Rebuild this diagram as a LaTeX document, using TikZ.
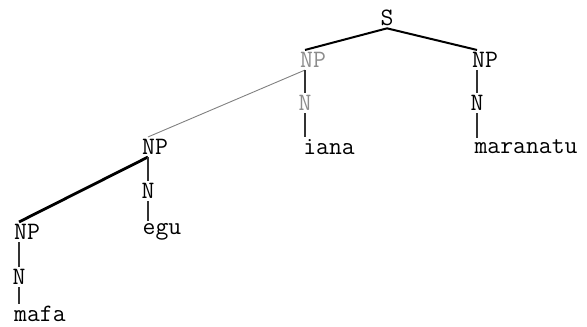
\documentclass[tikz,border=0pt]{standalone}
\usepackage{tikz}
\usetikzlibrary{calc}
\usetikzlibrary{positioning}
\tikzset{>=latex}
\tikzstyle{lbl} = [draw = none, inner sep = 1, font = \ttfamily\fontsize{12.5}{14}\selectfont]
\tikzstyle{dim} = [lbl, text = black!45]
\tikzstyle{branch} = [draw = black, line width = 1pt]
\tikzstyle{stem} = [draw = black!80, line width = 0.6pt]

\begin{document}
\begin{tikzpicture}[x = 0.5pt, y = -0.5pt]
\useasboundingbox (0, 0) rectangle (587, 326);
\node [lbl] (S) at (387, 18) {S};
\node [dim] (NP1) at (313, 60) {NP};
\node [lbl] (NP2) at (485, 60) {NP};
\node [dim] (N1) at (305, 103) {N};
\node [lbl] (N2) at (477, 103) {N};
\node [lbl] (W1) at (329, 147) {iana};
\node [lbl] (W2) at (526, 147) {maranatu};
\node [lbl] (NP3) at (155, 147) {NP};
\node [lbl] (N3) at (148, 191) {N};
\node [lbl] (W3) at (162, 232) {egu};
\node [lbl] (NP4) at (27, 232) {NP};
\node [lbl] (N4) at (19, 277) {N};
\node [lbl] (W4) at (40, 314) {mafa};
\draw [branch] (S.south) to (NP1.north -| N1.north);
\draw [branch] (S.south) to (NP2.north -| N2.north);
\draw [draw = black!50, line width = 0.45pt] (NP1.south -| N1.north) to (NP3.north -| N3.north);
\draw [draw = black, line width = 1.4pt] (NP3.south -| N3.north) to (NP4.north -| N4.north);
\draw [stem] (NP1.south -| N1.north) to (N1.north);
\draw [stem] (N1.south) to (W1.north -| N1.south);
\draw [stem] (NP2.south -| N2.north) to (N2.north);
\draw [stem] (N2.south) to (W2.north -| N2.south);
\draw [stem] (NP3.south -| N3.north) to (N3.north);
\draw [stem] (N3.south) to (W3.north -| N3.south);
\draw [stem] (NP4.south -| N4.north) to (N4.north);
\draw [stem] (N4.south) to (W4.north -| N4.south);
\end{tikzpicture}
\end{document}
